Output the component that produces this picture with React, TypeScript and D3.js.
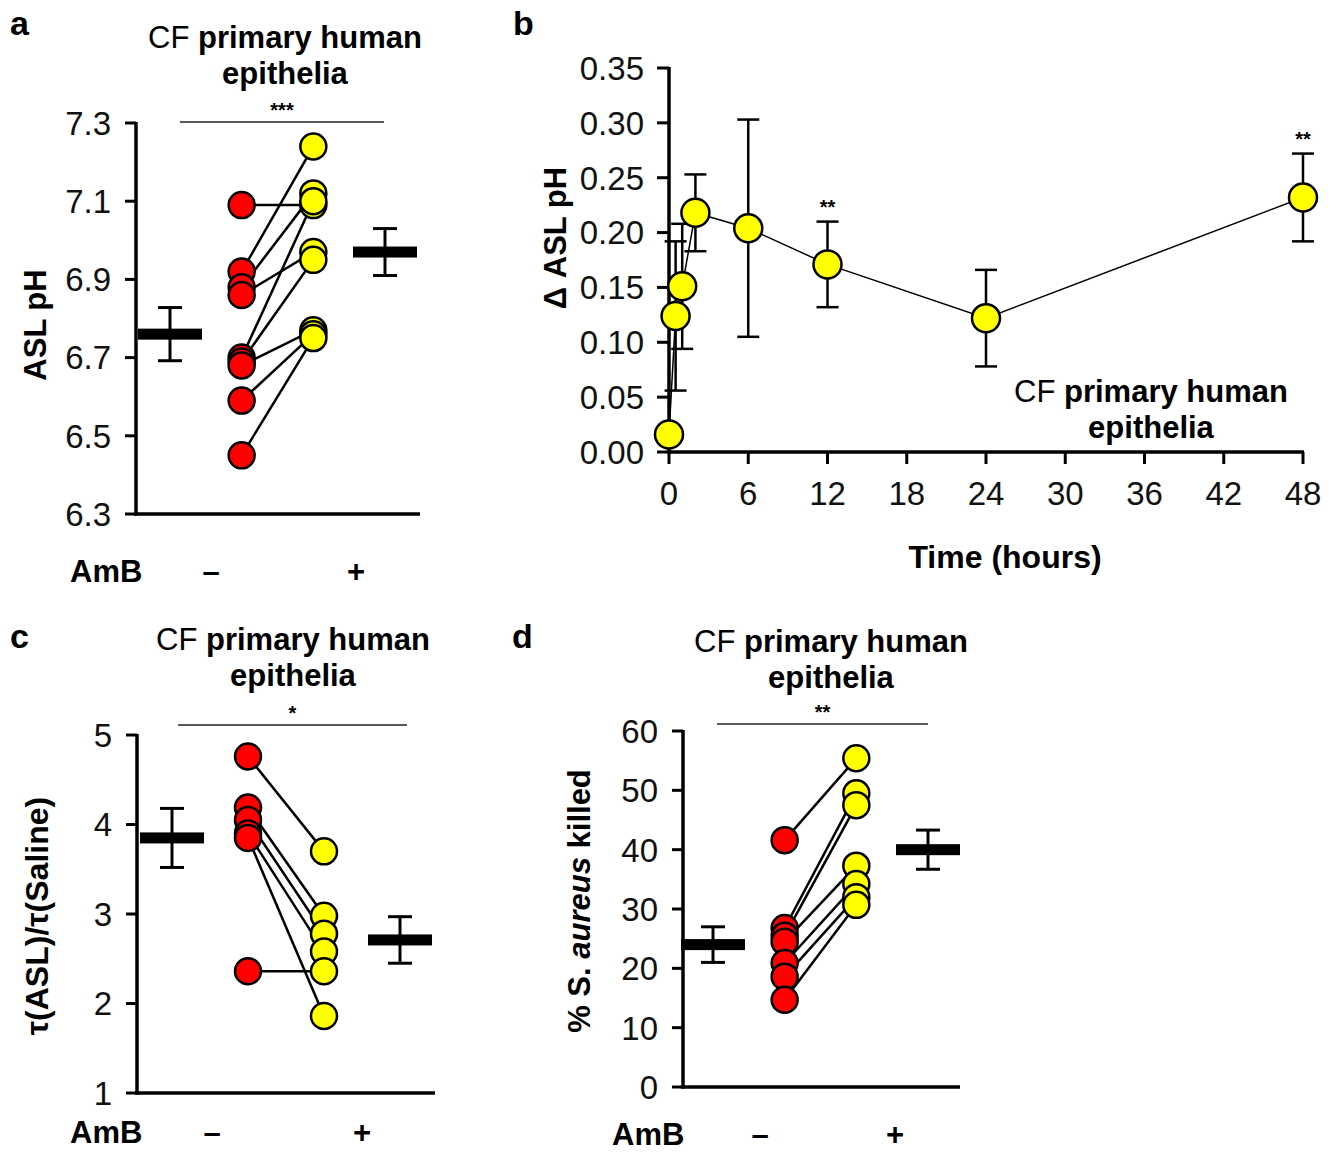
import React from 'react';
import * as d3 from 'd3';

const FONT = "'Liberation Sans', Arial, Helvetica, sans-serif";

// panel a: ASL pH, paired (– / + AmB)
const aNeg = [7.09, 6.92, 6.88, 6.86, 6.70, 6.69, 6.68, 6.59, 6.45];
const aPos = [7.09, 7.24, 7.12, 6.97, 7.10, 6.95, 6.77, 6.76, 6.75];
const aMean = [6.76, 6.97];
const aErr = [0.068, 0.06];
const aTicks = [6.3, 6.5, 6.7, 6.9, 7.1, 7.3];

// panel b: delta ASL pH over time
const bTime = [0, 0.5, 1, 2, 6, 12, 24, 48];
const bDelta = [0.016, 0.124, 0.151, 0.218, 0.204, 0.171, 0.122, 0.232];
const bErr = [0, 0.068, 0.057, 0.035, 0.099, 0.039, 0.044, 0.04];
const bStars = [{ t: 12, s: '**' }, { t: 48, s: '**' }];
const bYTicks = [0, 0.05, 0.1, 0.15, 0.2, 0.25, 0.3, 0.35];
const bXTicks = [0, 6, 12, 18, 24, 30, 36, 42, 48];

// panel c: tau ratio
const cNeg = [4.76, 4.19, 4.05, 3.90, 3.85, 2.36];
const cPos = [3.70, 2.98, 2.78, 2.58, 1.86, 2.36];
const cMean = [3.85, 2.71];
const cErr = [0.33, 0.26];
const cTicks = [1, 2, 3, 4, 5];

// panel d: % S. aureus killed
const dNeg = [41.6, 26.8, 25.5, 24.5, 20.9, 18.6, 14.7];
const dPos = [55.4, 49.5, 47.5, 37.3, 34.2, 32.0, 30.7];
const dMean = [24, 40];
const dErr = [3, 3.3];
const dTicks = [0, 10, 20, 30, 40, 50, 60];

const groups = ['m0', 'neg', 'pos', 'm1'];

function Title({ x, y, size = 31 }) {
  return (
    <text x={x} y={y} textAnchor="middle" fontSize={size} fontFamily={FONT}>
      <tspan>CF </tspan>
      <tspan fontWeight="bold">primary human</tspan>
      <tspan x={x} dy={36} fontWeight="bold">epithelia</tspan>
    </text>
  );
}

function PairedPanel(p) {
  const y = d3.scaleLinear().domain(p.yDomain).range(p.yRange);
  const x = d3.scalePoint().domain(groups).range(p.xRange);
  const [bottom, top] = p.yRange;
  const r = 13;
  return (
    <g fontFamily={FONT}>
      <text x={p.labelX} y={p.labelY} fontSize={34} fontWeight="bold">{p.label}</text>
      <Title x={p.titleX} y={p.titleY} />
      {/* significance bar */}
      <line x1={p.sig[0]} x2={p.sig[1]} y1={p.sigY} y2={p.sigY} stroke="#222" strokeWidth={1.6} />
      <text x={(p.sig[0] + p.sig[1]) / 2} y={p.sigY - 5} textAnchor="middle" fontSize={20} fontWeight="bold">{p.stars}</text>
      {/* axes */}
      <line x1={p.axisX} x2={p.axisX} y1={top - 1} y2={bottom + 1.5} stroke="#000" strokeWidth={3.5} />
      <line x1={p.axisX - 2} x2={p.axisEnd} y1={bottom} y2={bottom} stroke="#000" strokeWidth={3.5} />
      {p.ticks.map(t => (
        <g key={t}>
          <line x1={p.axisX - 11} x2={p.axisX} y1={y(t)} y2={y(t)} stroke="#000" strokeWidth={3} />
          <text x={p.axisX - 25} y={y(t)} dy="0.36em" textAnchor="end" fontSize={33} fill="#111">{p.fmt(t)}</text>
        </g>
      ))}
      <text transform={`translate(${p.yLabelX},${p.yLabelY}) rotate(-90)`} textAnchor="middle" fontSize={p.yLabelSize || 31} fontWeight="bold">{p.yLabel}</text>
      {/* mean ± error */}
      {p.mean.map((m, i) => {
        const cx = x(i === 0 ? 'm0' : 'm1');
        return (
          <g key={i}>
            <rect x={cx - 32} y={y(m) - 5.5} width={64} height={11} fill="#000" />
            <line x1={cx} x2={cx} y1={y(m + p.err[i])} y2={y(m - p.err[i])} stroke="#000" strokeWidth={3} />
            <line x1={cx - 12} x2={cx + 12} y1={y(m + p.err[i])} y2={y(m + p.err[i])} stroke="#000" strokeWidth={3} />
            <line x1={cx - 12} x2={cx + 12} y1={y(m - p.err[i])} y2={y(m - p.err[i])} stroke="#000" strokeWidth={3} />
          </g>
        );
      })}
      {/* pairs */}
      {p.neg.map((v, i) => (
        <line key={'l' + i} x1={x('neg')} x2={x('pos')} y1={y(v)} y2={y(p.pos[i])} stroke="#000" strokeWidth={2.5} />
      ))}
      {p.neg.map((v, i) => (
        <circle key={'n' + i} cx={x('neg')} cy={y(v)} r={r} fill="#ff0000" stroke="#000" strokeWidth={2.5} />
      ))}
      {p.pos.map((v, i) => (
        <circle key={'p' + i} cx={x('pos')} cy={y(v)} r={r} fill="#ffff00" stroke="#000" strokeWidth={2.5} />
      ))}
      {/* AmB row */}
      <text x={p.ambX} y={p.ambY} fontSize={31} fontWeight="bold">AmB</text>
      <text x={p.dashX} y={p.ambY} textAnchor="middle" fontSize={31} fontWeight="bold">–</text>
      <text x={p.plusX} y={p.ambY} textAnchor="middle" fontSize={31} fontWeight="bold">+</text>
    </g>
  );
}

function TimePanel() {
  const x = d3.scaleLinear().domain([0, 48]).range([669, 1303]);
  const y = d3.scaleLinear().domain([0, 0.35]).range([452, 68]);
  const line = d3.line<number>().x((_, i) => x(bTime[i])).y(d => y(d));
  const cap = 11;
  return (
    <g fontFamily={FONT}>
      <text x={513} y={35} fontSize={34} fontWeight="bold">b</text>
      {/* axes */}
      <line x1={669} x2={669} y1={67} y2={454} stroke="#000" strokeWidth={3.5} />
      <line x1={667} x2={1304} y1={452} y2={452} stroke="#000" strokeWidth={3.5} />
      {bYTicks.map(t => (
        <g key={t}>
          <line x1={657} x2={669} y1={y(t)} y2={y(t)} stroke="#000" strokeWidth={3} />
          <text x={644} y={y(t)} dy="0.36em" textAnchor="end" fontSize={33} fill="#111">{d3.format('.2f')(t)}</text>
        </g>
      ))}
      {bXTicks.map(t => (
        <g key={t}>
          <line x1={x(t)} x2={x(t)} y1={452} y2={464} stroke="#000" strokeWidth={3} />
          <text x={x(t)} y={505} textAnchor="middle" fontSize={33} fill="#111">{t}</text>
        </g>
      ))}
      <text transform="translate(566,238) rotate(-90)" textAnchor="middle" fontSize={31} fontWeight="bold">Δ ASL pH</text>
      <text x={1005} y={568} textAnchor="middle" fontSize={32} fontWeight="bold">Time (hours)</text>
      <text x={1151} y={402} textAnchor="middle" fontSize={31}>
        <tspan>CF </tspan>
        <tspan fontWeight="bold">primary human</tspan>
        <tspan x={1151} dy={36} fontWeight="bold">epithelia</tspan>
      </text>
      {/* error bars */}
      {bDelta.map((v, i) => bErr[i] > 0 && (
        <g key={'e' + i} stroke="#000" strokeWidth={2.5}>
          <line x1={x(bTime[i])} x2={x(bTime[i])} y1={y(v + bErr[i])} y2={y(v - bErr[i])} />
          <line x1={x(bTime[i]) - cap} x2={x(bTime[i]) + cap} y1={y(v + bErr[i])} y2={y(v + bErr[i])} />
          <line x1={x(bTime[i]) - cap} x2={x(bTime[i]) + cap} y1={y(v - bErr[i])} y2={y(v - bErr[i])} />
        </g>
      ))}
      <path d={line(bDelta) || ''} fill="none" stroke="#000" strokeWidth={1.5} />
      {bDelta.map((v, i) => (
        <circle key={'c' + i} cx={x(bTime[i])} cy={y(v)} r={14} fill="#ffff00" stroke="#000" strokeWidth={2.5} />
      ))}
      {bStars.map(s => {
        const i = bTime.indexOf(s.t);
        return (
          <text key={s.t} x={x(s.t)} y={y(bDelta[i] + bErr[i]) - 8} textAnchor="middle" fontSize={20} fontWeight="bold">{s.s}</text>
        );
      })}
    </g>
  );
}

export default function App() {
  return (
    <svg width={1339} height={1154} viewBox="0 0 1339 1154" style={{ position: 'absolute', left: 0, top: 0, background: '#fff' }}>
      <rect width={1339} height={1154} fill="#fff" />
      <PairedPanel
        label="a" labelX={10} labelY={35}
        titleX={285} titleY={48}
        neg={aNeg} pos={aPos} mean={aMean} err={aErr}
        yDomain={[6.3, 7.3]} yRange={[514, 123]} ticks={aTicks} fmt={d3.format('.1f')}
        axisX={136} axisEnd={420} xRange={[170, 385]}
        sig={[180, 384]} sigY={122} stars="***"
        yLabel="ASL pH" yLabelX={46} yLabelY={325}
        ambX={70} ambY={582} dashX={211} plusX={356}
      />
      <TimePanel />
      <PairedPanel
        label="c" labelX={10} labelY={648}
        titleX={293} titleY={650}
        neg={cNeg} pos={cPos} mean={cMean} err={cErr}
        yDomain={[1, 5]} yRange={[1093, 735]} ticks={cTicks} fmt={d3.format('d')}
        axisX={137} axisEnd={435} xRange={[172, 400]}
        sig={[178, 407]} sigY={725} stars="*"
        yLabel="τ(ASL)/τ(Saline)" yLabelX={48} yLabelY={916} yLabelSize={32}
        ambX={70} ambY={1143} dashX={212} plusX={362}
      />
      <PairedPanel
        label="d" labelX={512} labelY={648}
        titleX={831} titleY={652}
        neg={dNeg} pos={dPos} mean={dMean} err={dErr}
        yDomain={[0, 60]} yRange={[1087, 731]} ticks={dTicks} fmt={d3.format('d')}
        axisX={683} axisEnd={960} xRange={[713, 928]}
        sig={[717, 928]} sigY={724} stars="**"
        yLabel={<><tspan>% S. </tspan><tspan fontStyle="italic">aureus</tspan><tspan> killed</tspan></>}
        yLabelX={590} yLabelY={901}
        ambX={612} ambY={1145} dashX={760} plusX={895}
      />
    </svg>
  );
}
